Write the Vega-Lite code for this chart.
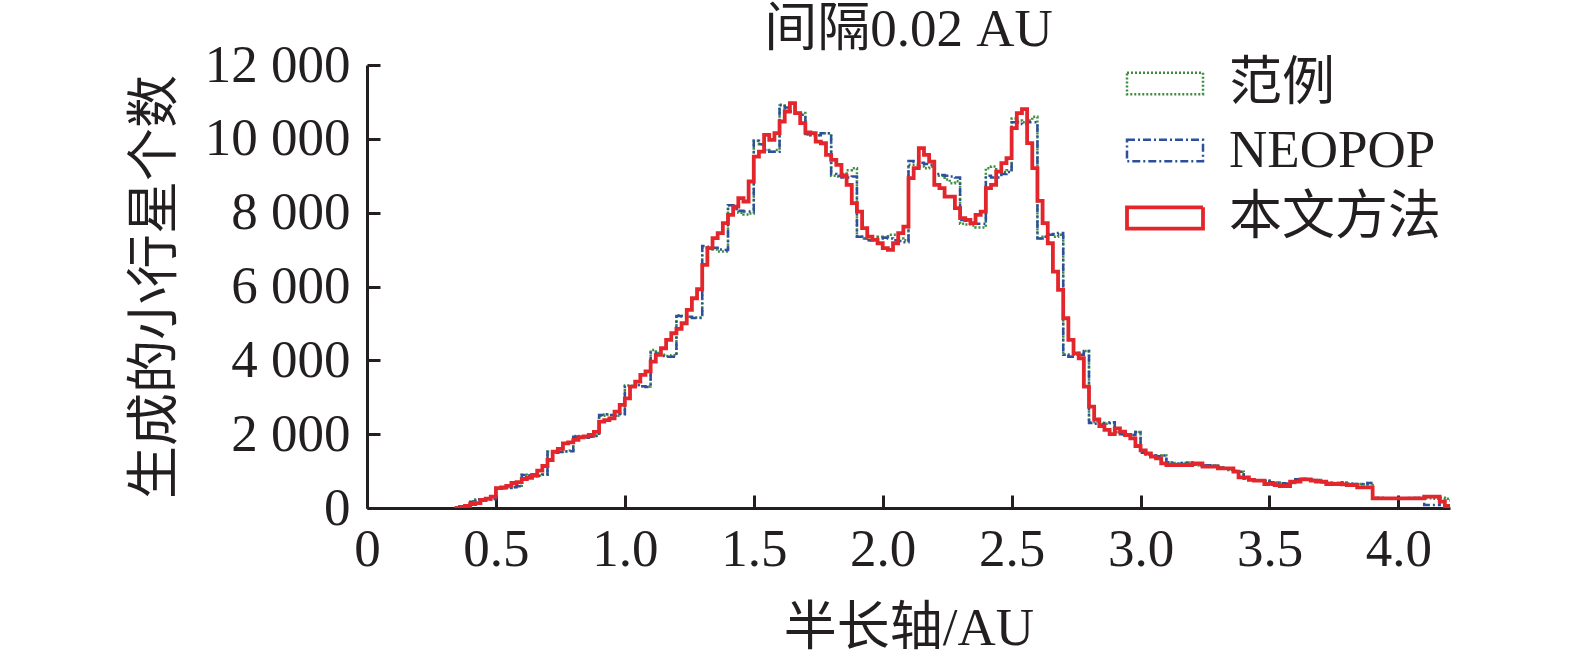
{
  "$schema": "https://vega.github.io/schema/vega-lite/v6.json",
  "width": 1083,
  "height": 443,
  "autosize": "none",
  "padding": {"left": 367, "top": 65, "right": 125, "bottom": 151},
  "background": "white",
  "title": {
    "text": "间隔0.02 AU",
    "fontSize": 53,
    "font": "Liberation Serif, Noto Sans CJK SC",
    "fontWeight": "normal",
    "color": "#231f20",
    "anchor": "middle",
    "offset": -18
  },
  "config": {
    "view": {"stroke": null},
    "font": "Liberation Serif, Noto Sans CJK SC",
    "axis": {
      "grid": false,
      "domainColor": "#231f20",
      "domainWidth": 3,
      "tickColor": "#231f20",
      "tickWidth": 3,
      "tickSize": -13,
      "labelFont": "Liberation Serif",
      "labelFontSize": 53,
      "labelColor": "#231f20",
      "titleFont": "Liberation Serif, Noto Sans CJK SC",
      "titleFontSize": 53,
      "titleFontWeight": "normal",
      "titleColor": "#231f20"
    },
    "legend": {
      "labelFont": "Liberation Serif, Noto Sans CJK SC",
      "labelFontSize": 53,
      "labelColor": "#231f20",
      "labelLimit": 500,
      "symbolType": "M-1,-0.28H1V0.28H-1Z",
      "symbolSize": 5776,
      "symbolFillColor": "transparent",
      "labelOffset": 24,
      "rowPadding": 0,
      "padding": 0
    }
  },
  "data": {
    "values": [
      {"a": 0.34, "范例": 0, "NEOPOP": 0, "本文方法": 0},
      {"a": 0.36, "范例": 40, "NEOPOP": 0, "本文方法": 30},
      {"a": 0.38, "范例": 60, "NEOPOP": 0, "本文方法": 60},
      {"a": 0.40, "范例": 180, "NEOPOP": 171, "本文方法": 108},
      {"a": 0.42, "范例": 230, "NEOPOP": 235, "本文方法": 130},
      {"a": 0.44, "范例": 240, "NEOPOP": 235, "本文方法": 217},
      {"a": 0.46, "范例": 240, "NEOPOP": 235, "本文方法": 250},
      {"a": 0.48, "范例": 250, "NEOPOP": 240, "本文方法": 306},
      {"a": 0.50, "范例": 540, "NEOPOP": 533, "本文方法": 540},
      {"a": 0.52, "范例": 540, "NEOPOP": 533, "本文方法": 560},
      {"a": 0.54, "范例": 550, "NEOPOP": 540, "本文方法": 600},
      {"a": 0.56, "范例": 570, "NEOPOP": 560, "本文方法": 677},
      {"a": 0.58, "范例": 600, "NEOPOP": 590, "本文方法": 700},
      {"a": 0.60, "范例": 900, "NEOPOP": 894, "本文方法": 786},
      {"a": 0.62, "范例": 880, "NEOPOP": 880, "本文方法": 820},
      {"a": 0.64, "范例": 860, "NEOPOP": 860, "本文方法": 894},
      {"a": 0.66, "范例": 880, "NEOPOP": 870, "本文方法": 1010},
      {"a": 0.68, "范例": 910, "NEOPOP": 900, "本文方法": 1138},
      {"a": 0.70, "范例": 1530, "NEOPOP": 1517, "本文方法": 1300},
      {"a": 0.72, "范例": 1510, "NEOPOP": 1500, "本文方法": 1526},
      {"a": 0.74, "范例": 1520, "NEOPOP": 1520, "本文方法": 1600},
      {"a": 0.76, "范例": 1540, "NEOPOP": 1530, "本文方法": 1753},
      {"a": 0.78, "范例": 1560, "NEOPOP": 1540, "本文方法": 1780},
      {"a": 0.80, "范例": 1950, "NEOPOP": 1933, "本文方法": 1843},
      {"a": 0.82, "范例": 1940, "NEOPOP": 1930, "本文方法": 1916},
      {"a": 0.84, "范例": 1920, "NEOPOP": 1900, "本文方法": 1940},
      {"a": 0.86, "范例": 1940, "NEOPOP": 1930, "本文方法": 1980},
      {"a": 0.88, "范例": 1960, "NEOPOP": 1950, "本文方法": 2060},
      {"a": 0.90, "范例": 2500, "NEOPOP": 2520, "本文方法": 2339},
      {"a": 0.92, "范例": 2530, "NEOPOP": 2540, "本文方法": 2380},
      {"a": 0.94, "范例": 2510, "NEOPOP": 2520, "本文方法": 2430},
      {"a": 0.96, "范例": 2500, "NEOPOP": 2500, "本文方法": 2610},
      {"a": 0.98, "范例": 2550, "NEOPOP": 2540, "本文方法": 2791},
      {"a": 1.00, "范例": 3320, "NEOPOP": 3287, "本文方法": 2972},
      {"a": 1.02, "范例": 3310, "NEOPOP": 3300, "本文方法": 3287},
      {"a": 1.04, "范例": 3330, "NEOPOP": 3330, "本文方法": 3423},
      {"a": 1.06, "范例": 3300, "NEOPOP": 3300, "本文方法": 3604},
      {"a": 1.08, "范例": 3290, "NEOPOP": 3280, "本文方法": 3700},
      {"a": 1.10, "范例": 4280, "NEOPOP": 4200, "本文方法": 3965},
      {"a": 1.12, "范例": 4200, "NEOPOP": 4150, "本文方法": 4146},
      {"a": 1.14, "范例": 4150, "NEOPOP": 4120, "本文方法": 4327},
      {"a": 1.16, "范例": 4120, "NEOPOP": 4100, "本文方法": 4553},
      {"a": 1.18, "范例": 4140, "NEOPOP": 4100, "本文方法": 4733},
      {"a": 1.20, "范例": 5220, "NEOPOP": 5200, "本文方法": 4850},
      {"a": 1.22, "范例": 5200, "NEOPOP": 5190, "本文方法": 5005},
      {"a": 1.24, "范例": 5180, "NEOPOP": 5180, "本文方法": 5366},
      {"a": 1.26, "范例": 5160, "NEOPOP": 5150, "本文方法": 5682},
      {"a": 1.28, "范例": 5160, "NEOPOP": 5150, "本文方法": 5926},
      {"a": 1.30, "范例": 7050, "NEOPOP": 7100, "本文方法": 6585},
      {"a": 1.32, "范例": 7020, "NEOPOP": 7080, "本文方法": 7037},
      {"a": 1.34, "范例": 7000, "NEOPOP": 7050, "本文方法": 7308},
      {"a": 1.36, "范例": 6950, "NEOPOP": 7000, "本文方法": 7444},
      {"a": 1.38, "范例": 6950, "NEOPOP": 6990, "本文方法": 7715},
      {"a": 1.40, "范例": 8200, "NEOPOP": 8200, "本文方法": 7940},
      {"a": 1.42, "范例": 8100, "NEOPOP": 8100, "本文方法": 8166},
      {"a": 1.44, "范例": 8000, "NEOPOP": 8050, "本文方法": 8392},
      {"a": 1.46, "范例": 7950, "NEOPOP": 8030, "本文方法": 8302},
      {"a": 1.48, "范例": 7980, "NEOPOP": 8030, "本文方法": 8844},
      {"a": 1.50, "范例": 9950, "NEOPOP": 9950, "本文方法": 9520},
      {"a": 1.52, "范例": 9850, "NEOPOP": 9850, "本文方法": 9656},
      {"a": 1.54, "范例": 9700, "NEOPOP": 9700, "本文方法": 10108},
      {"a": 1.56, "范例": 9650, "NEOPOP": 9650, "本文方法": 9973},
      {"a": 1.58, "范例": 9700, "NEOPOP": 9650, "本文方法": 10154},
      {"a": 1.60, "范例": 10900, "NEOPOP": 10920, "本文方法": 10469},
      {"a": 1.62, "范例": 10800, "NEOPOP": 10850, "本文方法": 10740},
      {"a": 1.64, "范例": 10750, "NEOPOP": 10750, "本文方法": 10967},
      {"a": 1.66, "范例": 10700, "NEOPOP": 10700, "本文方法": 10696},
      {"a": 1.68, "范例": 10700, "NEOPOP": 10650, "本文方法": 10425},
      {"a": 1.70, "范例": 10120, "NEOPOP": 10130, "本文方法": 10171},
      {"a": 1.72, "范例": 10100, "NEOPOP": 10100, "本文方法": 10154},
      {"a": 1.74, "范例": 10100, "NEOPOP": 10100, "本文方法": 9927},
      {"a": 1.76, "范例": 10150, "NEOPOP": 10150, "本文方法": 9880},
      {"a": 1.78, "范例": 10150, "NEOPOP": 10150, "本文方法": 9566},
      {"a": 1.80, "范例": 9000, "NEOPOP": 9050, "本文方法": 9431},
      {"a": 1.82, "范例": 8980, "NEOPOP": 9000, "本文方法": 9295},
      {"a": 1.84, "范例": 9050, "NEOPOP": 8950, "本文方法": 9000},
      {"a": 1.86, "范例": 9150, "NEOPOP": 8950, "本文方法": 8753},
      {"a": 1.88, "范例": 9200, "NEOPOP": 8980, "本文方法": 8257},
      {"a": 1.90, "范例": 7350, "NEOPOP": 7350, "本文方法": 8030},
      {"a": 1.92, "范例": 7300, "NEOPOP": 7300, "本文方法": 7579},
      {"a": 1.94, "范例": 7250, "NEOPOP": 7250, "本文方法": 7353},
      {"a": 1.96, "范例": 7280, "NEOPOP": 7280, "本文方法": 7263},
      {"a": 1.98, "范例": 7350, "NEOPOP": 7300, "本文方法": 7172},
      {"a": 2.00, "范例": 7330, "NEOPOP": 7320, "本文方法": 7037},
      {"a": 2.02, "范例": 7400, "NEOPOP": 7300, "本文方法": 6992},
      {"a": 2.04, "范例": 7400, "NEOPOP": 7250, "本文方法": 7172},
      {"a": 2.06, "范例": 7300, "NEOPOP": 7230, "本文方法": 7444},
      {"a": 2.08, "范例": 7250, "NEOPOP": 7200, "本文方法": 7624},
      {"a": 2.10, "范例": 9300, "NEOPOP": 9400, "本文方法": 8935},
      {"a": 2.12, "范例": 9300, "NEOPOP": 9380, "本文方法": 9205},
      {"a": 2.14, "范例": 9250, "NEOPOP": 9350, "本文方法": 9747},
      {"a": 2.16, "范例": 9200, "NEOPOP": 9320, "本文方法": 9566},
      {"a": 2.18, "范例": 9250, "NEOPOP": 9300, "本文方法": 9385},
      {"a": 2.20, "范例": 9000, "NEOPOP": 9050, "本文方法": 8753},
      {"a": 2.22, "范例": 9000, "NEOPOP": 9020, "本文方法": 8664},
      {"a": 2.24, "范例": 8900, "NEOPOP": 9000, "本文方法": 8436},
      {"a": 2.26, "范例": 8800, "NEOPOP": 8980, "本文方法": 8436},
      {"a": 2.28, "范例": 8850, "NEOPOP": 8950, "本文方法": 8122},
      {"a": 2.30, "范例": 7700, "NEOPOP": 7800, "本文方法": 7851},
      {"a": 2.32, "范例": 7680, "NEOPOP": 7780, "本文方法": 7805},
      {"a": 2.34, "范例": 7650, "NEOPOP": 7760, "本文方法": 7715},
      {"a": 2.36, "范例": 7600, "NEOPOP": 7700, "本文方法": 7940},
      {"a": 2.38, "范例": 7600, "NEOPOP": 7700, "本文方法": 8030},
      {"a": 2.40, "范例": 9200, "NEOPOP": 9000, "本文方法": 8664},
      {"a": 2.42, "范例": 9250, "NEOPOP": 8950, "本文方法": 8753},
      {"a": 2.44, "范例": 9100, "NEOPOP": 8950, "本文方法": 9114},
      {"a": 2.46, "范例": 9100, "NEOPOP": 9050, "本文方法": 9341},
      {"a": 2.48, "范例": 9150, "NEOPOP": 9100, "本文方法": 9476},
      {"a": 2.50, "范例": 10550, "NEOPOP": 10450, "本文方法": 10289},
      {"a": 2.52, "范例": 10500, "NEOPOP": 10450, "本文方法": 10696},
      {"a": 2.54, "范例": 10450, "NEOPOP": 10400, "本文方法": 10804},
      {"a": 2.56, "范例": 10500, "NEOPOP": 10450, "本文方法": 9883},
      {"a": 2.58, "范例": 10600, "NEOPOP": 10450, "本文方法": 9205},
      {"a": 2.60, "范例": 7300, "NEOPOP": 7300, "本文方法": 8320},
      {"a": 2.62, "范例": 7350, "NEOPOP": 7350, "本文方法": 7715},
      {"a": 2.64, "范例": 7400, "NEOPOP": 7400, "本文方法": 7172},
      {"a": 2.66, "范例": 7350, "NEOPOP": 7420, "本文方法": 6404},
      {"a": 2.68, "范例": 7400, "NEOPOP": 7450, "本文方法": 5908},
      {"a": 2.70, "范例": 4150, "NEOPOP": 4150, "本文方法": 5140},
      {"a": 2.72, "范例": 4100, "NEOPOP": 4100, "本文方法": 4553},
      {"a": 2.74, "范例": 4150, "NEOPOP": 4100, "本文方法": 4191},
      {"a": 2.76, "范例": 4200, "NEOPOP": 4150, "本文方法": 4056},
      {"a": 2.78, "范例": 4250, "NEOPOP": 4250, "本文方法": 3287},
      {"a": 2.80, "范例": 2320, "NEOPOP": 2300, "本文方法": 2745},
      {"a": 2.82, "范例": 2350, "NEOPOP": 2280, "本文方法": 2400},
      {"a": 2.84, "范例": 2300, "NEOPOP": 2260, "本文方法": 2220},
      {"a": 2.86, "范例": 2280, "NEOPOP": 2300, "本文方法": 2114},
      {"a": 2.88, "范例": 2300, "NEOPOP": 2320, "本文方法": 2000},
      {"a": 2.90, "范例": 2050, "NEOPOP": 2050, "本文方法": 2159},
      {"a": 2.92, "范例": 2000, "NEOPOP": 2000, "本文方法": 2069},
      {"a": 2.94, "范例": 1980, "NEOPOP": 1980, "本文方法": 1978},
      {"a": 2.96, "范例": 1980, "NEOPOP": 1980, "本文方法": 1888},
      {"a": 2.98, "范例": 2060, "NEOPOP": 2060, "本文方法": 1680},
      {"a": 3.00, "范例": 1500, "NEOPOP": 1500, "本文方法": 1560},
      {"a": 3.02, "范例": 1450, "NEOPOP": 1450, "本文方法": 1482},
      {"a": 3.04, "范例": 1420, "NEOPOP": 1420, "本文方法": 1391},
      {"a": 3.06, "范例": 1400, "NEOPOP": 1400, "本文方法": 1346},
      {"a": 3.08, "范例": 1420, "NEOPOP": 1420, "本文方法": 1211},
      {"a": 3.10, "范例": 1240, "NEOPOP": 1240, "本文方法": 1165},
      {"a": 3.12, "范例": 1220, "NEOPOP": 1220, "本文方法": 1165},
      {"a": 3.14, "范例": 1200, "NEOPOP": 1200, "本文方法": 1165},
      {"a": 3.16, "范例": 1220, "NEOPOP": 1220, "本文方法": 1165},
      {"a": 3.18, "范例": 1230, "NEOPOP": 1230, "本文方法": 1165},
      {"a": 3.20, "范例": 1180, "NEOPOP": 1180, "本文方法": 1211},
      {"a": 3.22, "范例": 1160, "NEOPOP": 1160, "本文方法": 1211},
      {"a": 3.24, "范例": 1150, "NEOPOP": 1150, "本文方法": 1120},
      {"a": 3.26, "范例": 1160, "NEOPOP": 1160, "本文方法": 1120},
      {"a": 3.28, "范例": 1150, "NEOPOP": 1150, "本文方法": 1120},
      {"a": 3.30, "范例": 1100, "NEOPOP": 1100, "本文方法": 1075},
      {"a": 3.32, "范例": 1060, "NEOPOP": 1060, "本文方法": 1075},
      {"a": 3.34, "范例": 1030, "NEOPOP": 1030, "本文方法": 1075},
      {"a": 3.36, "范例": 1000, "NEOPOP": 1000, "本文方法": 985},
      {"a": 3.38, "范例": 980, "NEOPOP": 980, "本文方法": 831},
      {"a": 3.40, "范例": 800, "NEOPOP": 800, "本文方法": 831},
      {"a": 3.42, "范例": 770, "NEOPOP": 770, "本文方法": 760},
      {"a": 3.44, "范例": 750, "NEOPOP": 750, "本文方法": 740},
      {"a": 3.46, "范例": 740, "NEOPOP": 740, "本文方法": 740},
      {"a": 3.48, "范例": 740, "NEOPOP": 740, "本文方法": 650},
      {"a": 3.50, "范例": 700, "NEOPOP": 700, "本文方法": 650},
      {"a": 3.52, "范例": 690, "NEOPOP": 690, "本文方法": 620},
      {"a": 3.54, "范例": 670, "NEOPOP": 670, "本文方法": 596},
      {"a": 3.56, "范例": 660, "NEOPOP": 660, "本文方法": 596},
      {"a": 3.58, "范例": 680, "NEOPOP": 680, "本文方法": 713},
      {"a": 3.60, "范例": 780, "NEOPOP": 780, "本文方法": 713},
      {"a": 3.62, "范例": 790, "NEOPOP": 790, "本文方法": 777},
      {"a": 3.64, "范例": 770, "NEOPOP": 770, "本文方法": 777},
      {"a": 3.66, "范例": 760, "NEOPOP": 760, "本文方法": 740},
      {"a": 3.68, "范例": 760, "NEOPOP": 760, "本文方法": 713},
      {"a": 3.70, "范例": 700, "NEOPOP": 700, "本文方法": 713},
      {"a": 3.72, "范例": 690, "NEOPOP": 690, "本文方法": 650},
      {"a": 3.74, "范例": 680, "NEOPOP": 680, "本文方法": 650},
      {"a": 3.76, "范例": 680, "NEOPOP": 680, "本文方法": 650},
      {"a": 3.78, "范例": 690, "NEOPOP": 690, "本文方法": 640},
      {"a": 3.80, "范例": 660, "NEOPOP": 660, "本文方法": 623},
      {"a": 3.82, "范例": 650, "NEOPOP": 650, "本文方法": 623},
      {"a": 3.84, "范例": 650, "NEOPOP": 650, "本文方法": 560},
      {"a": 3.86, "范例": 640, "NEOPOP": 640, "本文方法": 560},
      {"a": 3.88, "范例": 680, "NEOPOP": 680, "本文方法": 560},
      {"a": 3.90, "范例": 280, "NEOPOP": 280, "本文方法": 262},
      {"a": 3.92, "范例": 270, "NEOPOP": 270, "本文方法": 262},
      {"a": 3.94, "范例": 262, "NEOPOP": 262, "本文方法": 262},
      {"a": 3.96, "范例": 262, "NEOPOP": 262, "本文方法": 262},
      {"a": 3.98, "范例": 262, "NEOPOP": 262, "本文方法": 262},
      {"a": 4.00, "范例": 262, "NEOPOP": 262, "本文方法": 262},
      {"a": 4.02, "范例": 262, "NEOPOP": 262, "本文方法": 262},
      {"a": 4.04, "范例": 270, "NEOPOP": 270, "本文方法": 262},
      {"a": 4.06, "范例": 270, "NEOPOP": 270, "本文方法": 262},
      {"a": 4.08, "范例": 262, "NEOPOP": 262, "本文方法": 262},
      {"a": 4.10, "范例": 262, "NEOPOP": 80, "本文方法": 306},
      {"a": 4.12, "范例": 262, "NEOPOP": 80, "本文方法": 306},
      {"a": 4.14, "范例": 250, "NEOPOP": 80, "本文方法": 306},
      {"a": 4.16, "范例": 280, "NEOPOP": 200, "本文方法": 171},
      {"a": 4.18, "范例": 250, "NEOPOP": 200, "本文方法": 54},
      {"a": 4.20, "范例": 250, "NEOPOP": 200, "本文方法": 54}
    ]
  },
  "transform": [
    {"fold": ["范例", "NEOPOP", "本文方法"], "as": ["series", "count"]}
  ],
  "mark": {"type": "line", "interpolate": "step-after", "clip": true},
  "encoding": {
    "x": {
      "field": "a",
      "type": "quantitative",
      "scale": {"domain": [0, 4.2], "nice": false, "zero": false},
      "axis": {
        "title": "半长轴/AU",
        "values": [0, 0.5, 1, 1.5, 2, 2.5, 3, 3.5, 4],
        "labelExpr": "datum.value == 0 ? '0' : format(datum.value, '.1f')",
        "labelPadding": 28,
        "titlePadding": 26,
        "labelFlush": false,
        "labelOverlap": false
      }
    },
    "y": {
      "field": "count",
      "type": "quantitative",
      "scale": {"domain": [0, 12000], "nice": false},
      "axis": {
        "title": "生成的小行星个数",
        "values": [0, 2000, 4000, 6000, 8000, 10000, 12000],
        "labelExpr": "replace(format(datum.value, ','), ',', ' ')",
        "labelPadding": 30,
        "titlePadding": 22,
        "labelFlush": false,
        "labelOverlap": false
      }
    },
    "color": {
      "field": "series",
      "type": "nominal",
      "scale": {
        "domain": ["范例", "NEOPOP", "本文方法"],
        "range": ["#3d8d3d", "#2d4f9c", "#e3262c"]
      },
      "legend": {
        "title": null,
        "orient": "none",
        "legendX": 758,
        "legendY": -21
      }
    },
    "strokeDash": {
      "field": "series",
      "type": "nominal",
      "scale": {
        "domain": ["范例", "NEOPOP", "本文方法"],
        "range": [[2, 2], [8, 3, 2, 3], [1, 0]]
      },
      "legend": {
        "title": null,
        "orient": "none",
        "legendX": 758,
        "legendY": -21
      }
    },
    "strokeWidth": {
      "field": "series",
      "type": "nominal",
      "scale": {
        "type": "ordinal",
        "domain": ["范例", "NEOPOP", "本文方法"],
        "range": [2.5, 2.5, 3.8]
      },
      "legend": {
        "title": null,
        "orient": "none",
        "legendX": 758,
        "legendY": -21
      }
    }
  }
}
